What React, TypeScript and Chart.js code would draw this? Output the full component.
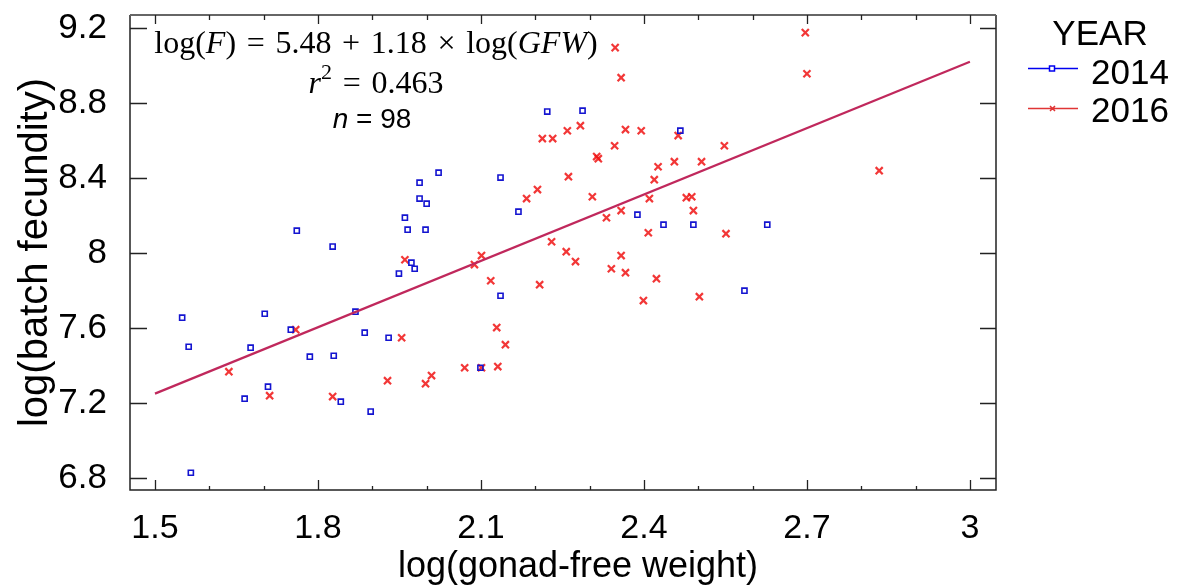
import React, { useEffect, useRef } from 'react';
import { Chart, registerables } from 'chart.js';

Chart.register(...registerables);

// ---- data ----
const x2014 = [1.550, 1.562, 1.566, 1.665, 1.676, 1.702, 1.708, 1.750, 1.761, 1.785, 1.827, 1.829, 1.842, 1.869, 1.886, 1.897, 1.930, 1.949, 1.960, 1.965, 1.972, 1.978, 1.987, 1.987, 2.000, 1.998, 2.022, 2.099, 2.136, 2.136, 2.169, 2.222, 2.287, 2.388, 2.436, 2.467, 2.491, 2.585, 2.627];
const y2014 = [7.655, 7.500, 6.828, 7.223, 7.495, 7.676, 7.287, 7.591, 8.119, 7.447, 8.034, 7.452, 7.207, 7.687, 7.575, 7.154, 7.548, 7.890, 8.188, 8.124, 7.948, 7.916, 8.290, 8.375, 8.263, 8.124, 8.428, 7.388, 8.402, 7.772, 8.220, 8.754, 8.759, 8.204, 8.151, 8.652, 8.151, 7.799, 8.151];

const x2016 = [1.636, 1.711, 1.759, 1.827, 1.928, 1.954, 1.960, 1.998, 2.009, 2.070, 2.088, 2.101, 2.101, 2.118, 2.129, 2.131, 2.145, 2.184, 2.204, 2.208, 2.213, 2.230, 2.232, 2.257, 2.259, 2.261, 2.274, 2.283, 2.305, 2.313, 2.316, 2.331, 2.340, 2.346, 2.347, 2.358, 2.358, 2.358, 2.366, 2.366, 2.395, 2.399, 2.408, 2.410, 2.419, 2.423, 2.426, 2.456, 2.463, 2.478, 2.488, 2.491, 2.502, 2.506, 2.548, 2.551, 2.697, 2.700, 2.833];
const y2016 = [7.367, 7.239, 7.591, 7.234, 7.319, 7.548, 7.964, 7.303, 7.346, 7.388, 7.938, 7.986, 7.388, 7.852, 7.602, 7.394, 7.511, 8.290, 8.338, 7.831, 8.610, 8.060, 8.610, 8.007, 8.652, 8.407, 7.954, 8.679, 8.300, 8.514, 8.503, 8.188, 7.916, 8.572, 9.095, 8.935, 8.226, 7.986, 8.658, 7.895, 8.652, 7.746, 8.108, 8.290, 8.391, 7.863, 8.460, 8.487, 8.626, 8.295, 8.300, 8.226, 7.767, 8.487, 8.572, 8.103, 9.175, 8.956, 8.439];

const fitX = [1.5, 3.0];
const fitY = [7.25, 9.02];

const xTickValues = [1.5, 1.8, 2.1, 2.4, 2.7, 3.0];
const xTickLabels = ['1.5', '1.8', '2.1', '2.4', '2.7', '3'];
const xMinorValues = [1.6, 1.7, 1.9, 2.0, 2.2, 2.3, 2.5, 2.6, 2.8, 2.9];
const yTickValues = [6.8, 7.2, 7.6, 8.0, 8.4, 8.8, 9.2];
const yTickLabels = ['6.8', '7.2', '7.6', '8', '8.4', '8.8', '9.2'];

const seriesNames = ['2014', '2016'];
const legendTitle = 'YEAR';
const xTitle = 'log(gonad-free weight)';
const yTitle = 'log(batch fecundity)';
const eqIntercept = '5.48';
const eqSlope = '1.18';
const eqR2 = '0.463';
const eqN = '98';

const BLUE = '#1414d0';
const RED = 'rgba(240,20,20,0.85)';
const FIT = '#c0285c';
const SANS = '"Liberation Sans", Arial, sans-serif';
const SERIF = '"Liberation Serif", "Times New Roman", serif';
const SP = '\u2004';

type Seg = { t: string; f: string; dy?: number };

function drawSegs(ctx: CanvasRenderingContext2D, segs: Seg[], cx: number, baseline: number) {
  let total = 0;
  const ws = segs.map((s) => {
    ctx.font = s.f;
    const w = ctx.measureText(s.t).width;
    total += w;
    return w;
  });
  let x = cx - total / 2;
  ctx.textAlign = 'left';
  ctx.textBaseline = 'alphabetic';
  segs.forEach((s, i) => {
    ctx.font = s.f;
    ctx.fillText(s.t, x, baseline + (s.dy || 0));
    x += ws[i];
  });
}

const decorPlugin = {
  id: 'decor',
  afterDraw(chart: any) {
    const ctx: CanvasRenderingContext2D = chart.ctx;
    const { left, right, top, bottom } = chart.chartArea;
    const xs = chart.scales.x;
    const ys = chart.scales.y;
    ctx.save();

    // frame
    ctx.lineWidth = 1.5;
    ctx.strokeStyle = '#222';
    ctx.beginPath();
    ctx.moveTo(left, top);
    ctx.lineTo(left, bottom);
    ctx.lineTo(right, bottom);
    ctx.lineTo(right, top);
    ctx.stroke();
    ctx.strokeStyle = '#666';
    ctx.lineWidth = 2;
    ctx.beginPath();
    ctx.moveTo(left, top);
    ctx.lineTo(right, top);
    ctx.stroke();

    // ticks
    ctx.strokeStyle = '#222';
    ctx.lineWidth = 1.3;
    ctx.beginPath();
    yTickValues.forEach((v) => {
      const py = Math.round(ys.getPixelForValue(v)) + 0.5;
      ctx.moveTo(left, py);
      ctx.lineTo(left + 17, py);
      ctx.moveTo(right, py);
      ctx.lineTo(right - 16, py);
    });
    xTickValues.forEach((v) => {
      const px = Math.round(xs.getPixelForValue(v)) + 0.5;
      ctx.moveTo(px, bottom);
      ctx.lineTo(px, bottom - 10);
      ctx.moveTo(px, top);
      ctx.lineTo(px, top + 9);
    });
    xMinorValues.forEach((v) => {
      const px = Math.round(xs.getPixelForValue(v)) + 0.5;
      ctx.moveTo(px, bottom);
      ctx.lineTo(px, bottom - 4);
      ctx.moveTo(px, top);
      ctx.lineTo(px, top + 5);
    });
    ctx.stroke();

    // axis titles
    ctx.fillStyle = '#000';
    ctx.font = `36px ${SANS}`;
    ctx.textAlign = 'center';
    ctx.textBaseline = 'alphabetic';
    ctx.fillText(xTitle, 578, 577);
    ctx.save();
    ctx.font = `40px ${SANS}`;
    ctx.translate(47, (top + bottom) / 2);
    ctx.rotate(-Math.PI / 2);
    ctx.fillText(yTitle, 0, 0);
    ctx.restore();

    // equation
    const eqSize = 32;
    const fN = `${eqSize}px ${SERIF}`;
    const fI = `italic ${eqSize}px ${SERIF}`;
    drawSegs(ctx, [
      { t: 'log(', f: fN },
      { t: 'F', f: fI },
      { t: `)${SP}=${SP}${eqIntercept}${SP}+${SP}${eqSlope}${SP}×${SP}log(`, f: fN },
      { t: 'GFW', f: fI },
      { t: ')', f: fN },
    ], 376, 53);
    drawSegs(ctx, [
      { t: 'r', f: fI },
      { t: '2', f: `22px ${SERIF}`, dy: -14 },
      { t: `${SP}=${SP}${eqR2}`, f: fN },
    ], 376, 93);
    drawSegs(ctx, [
      { t: 'n', f: `italic 28px ${SANS}` },
      { t: ` = ${eqN}`, f: `28px ${SANS}` },
    ], 372, 128);

    // legend
    ctx.fillStyle = '#000';
    ctx.font = `35px ${SANS}`;
    ctx.textAlign = 'center';
    ctx.fillText(legendTitle, 1100, 45);
    ctx.textAlign = 'left';
    ctx.fillText(seriesNames[0], 1091, 84);
    ctx.fillText(seriesNames[1], 1091, 122);
    // legend 2014
    ctx.lineWidth = 1.5;
    ctx.strokeStyle = '#0000f0';
    ctx.beginPath();
    ctx.moveTo(1028, 68.5);
    ctx.lineTo(1078, 68.5);
    ctx.stroke();
    ctx.fillStyle = '#fff';
    ctx.fillRect(1049.5, 66, 5, 5);
    ctx.strokeRect(1049.5, 66, 5, 5);
    // legend 2016
    ctx.strokeStyle = '#e03535';
    ctx.beginPath();
    ctx.moveTo(1028, 108.5);
    ctx.lineTo(1078, 108.5);
    ctx.moveTo(1050, 106);
    ctx.lineTo(1055, 111);
    ctx.moveTo(1055, 106);
    ctx.lineTo(1050, 111);
    ctx.stroke();

    ctx.restore();
  },
};

export default function App() {
  const ref = useRef<HTMLCanvasElement | null>(null);
  useEffect(() => {
    if (!ref.current) return;
    const chart = new Chart(ref.current, {
      type: 'scatter',
      data: {
        datasets: [
          {
            label: 'fit',
            type: 'line',
            data: fitX.map((x, i) => ({ x, y: fitY[i] })),
            borderColor: FIT,
            borderWidth: 2.2,
            pointRadius: 0,
            fill: false,
            order: 0,
          } as any,
          {
            label: seriesNames[0],
            data: x2014.map((x, i) => ({ x, y: y2014[i] })),
            pointStyle: 'rect',
            radius: 3.6,
            borderColor: BLUE,
            backgroundColor: 'rgba(255,255,255,0)',
            borderWidth: 1.6,
            order: 1,
          },
          {
            label: seriesNames[1],
            data: x2016.map((x, i) => ({ x, y: y2016[i] })),
            pointStyle: 'crossRot',
            radius: 5,
            borderColor: RED,
            backgroundColor: RED,
            borderWidth: 2.2,
            order: 2,
          },
        ],
      },
      options: {
        responsive: false,
        animation: false,
        layout: { padding: { left: 0, top: 15, right: 184, bottom: 0 } },
        plugins: { legend: { display: false }, tooltip: { enabled: false } },
        scales: {
          x: {
            type: 'linear',
            min: 1.454,
            max: 3.048,
            grid: { display: false, drawTicks: false },
            border: { display: false },
            afterBuildTicks: (s: any) => {
              s.ticks = xTickValues.map((v) => ({ value: v }));
            },
            afterFit: (s: any) => {
              s.height = 97;
              s.paddingLeft = 0;
              s.paddingRight = 0;
            },
            ticks: {
              padding: 18,
              color: '#000',
              font: { family: SANS, size: 34 },
              maxRotation: 0,
              autoSkip: false,
              callback: (v: any) => {
                const i = xTickValues.findIndex((t) => Math.abs(t - Number(v)) < 1e-6);
                return i >= 0 ? xTickLabels[i] : '';
              },
            },
          },
          y: {
            type: 'linear',
            min: 6.736,
            max: 9.269,
            grid: { display: false, drawTicks: false },
            border: { display: false },
            afterBuildTicks: (s: any) => {
              s.ticks = yTickValues.map((v) => ({ value: v }));
            },
            afterFit: (s: any) => {
              s.width = 130;
              s.paddingTop = 0;
              s.paddingBottom = 0;
            },
            ticks: {
              padding: 23,
              color: '#000',
              font: { family: SANS, size: 35 },
              autoSkip: false,
              callback: (v: any) => {
                const i = yTickValues.findIndex((t) => Math.abs(t - Number(v)) < 1e-6);
                return i >= 0 ? yTickLabels[i] : '';
              },
            },
          },
        },
      },
      plugins: [decorPlugin],
    });
    return () => chart.destroy();
  }, []);
  return (
    <div style={{ position: 'fixed', left: 0, top: 0, width: 1180, height: 587, background: '#fff' }}>
      <canvas ref={ref} width={1180} height={587} style={{ display: 'block' }} />
    </div>
  );
}
